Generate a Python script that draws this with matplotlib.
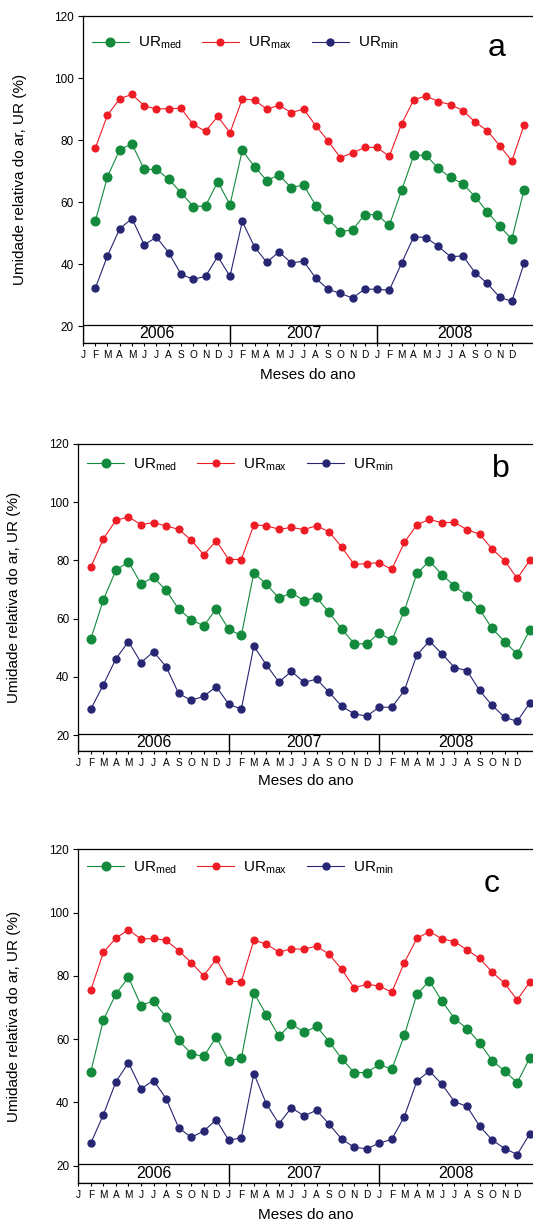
import numpy as np
import matplotlib.pyplot as plt
from matplotlib.patches import Rectangle

plt.rcParams['font.family'] = ['Liberation Sans', 'DejaVu Sans']
plt.rcParams['mathtext.default'] = 'regular'

# Meses de fev/2006 a jan/2009 (indice 0 = jan/2006)
meses = np.arange(1, 37)
rotulos_meses = ['J', 'F', 'M', 'A', 'M', 'J', 'J', 'A', 'S', 'O', 'N', 'D'] * 3
anos = ['2006', '2007', '2008']

# Painel a
ur_med_a = [53.8, 68.2, 77.0, 78.8, 70.6, 70.6, 67.4, 63.1, 58.6, 58.8, 66.6, 59.2,
            76.7, 71.5, 67.0, 68.8, 64.7, 65.6, 58.9, 54.6, 50.5, 51.1, 56.0, 56.0,
            52.5, 63.8, 75.1, 75.2, 70.9, 68.0, 66.0, 61.8, 56.9, 52.3, 48.1, 64.0]
ur_max_a = [77.4, 88.1, 93.4, 94.8, 91.1, 90.1, 90.2, 90.3, 85.1, 82.9, 87.7, 82.4,
            93.3, 93.0, 90.0, 91.3, 88.9, 90.1, 84.7, 79.8, 74.4, 75.9, 77.7, 77.7,
            74.8, 85.2, 93.1, 94.3, 92.5, 91.5, 89.6, 85.9, 83.1, 78.3, 73.3, 84.9]
ur_min_a = [32.2, 42.7, 51.5, 54.7, 46.3, 48.7, 43.7, 36.8, 35.1, 36.1, 42.5, 36.1,
            53.8, 45.6, 40.6, 44.0, 40.4, 41.0, 35.5, 31.9, 30.6, 29.1, 32.0, 31.9,
            31.6, 40.3, 48.9, 48.6, 45.8, 42.4, 42.7, 37.3, 33.8, 29.4, 28.0, 40.3]

# Painel b
ur_med_b = [53.0, 66.5, 76.6, 79.5, 71.9, 74.2, 69.7, 63.3, 59.6, 57.5, 63.3, 56.3,
            54.2, 75.7, 71.8, 67.0, 68.9, 66.1, 67.3, 62.1, 56.5, 51.4, 51.3, 55.1,
            52.5, 62.7, 75.5, 79.8, 75.1, 71.2, 67.8, 63.2, 56.6, 52.1, 47.8, 56.0]
ur_max_b = [77.7, 87.4, 93.8, 94.9, 92.3, 93.0, 91.8, 90.7, 87.0, 81.9, 86.7, 80.3,
            80.3, 92.2, 91.9, 90.7, 91.3, 90.6, 91.9, 89.8, 84.6, 78.6, 78.9, 79.2,
            76.9, 86.2, 92.2, 94.1, 92.9, 93.1, 90.5, 89.0, 83.9, 79.9, 73.8, 80.0]
ur_min_b = [28.9, 37.3, 46.2, 52.1, 44.9, 48.6, 43.5, 34.3, 31.9, 33.3, 36.6, 30.6,
            28.9, 50.5, 44.1, 38.2, 41.9, 38.1, 39.2, 34.7, 29.9, 27.3, 26.5, 29.6,
            29.5, 35.3, 47.5, 52.3, 47.9, 43.2, 42.1, 35.3, 30.2, 26.1, 24.7, 31.0]

# Painel c
ur_med_c = [49.7, 66.0, 74.3, 79.5, 70.6, 72.1, 66.9, 59.6, 55.4, 54.5, 60.6, 53.2,
            53.9, 74.6, 67.7, 60.9, 64.9, 62.1, 64.0, 59.2, 53.8, 49.4, 49.4, 52.0,
            50.4, 61.2, 74.2, 78.4, 72.0, 66.5, 63.3, 58.8, 53.2, 49.9, 46.2, 54.0]
ur_max_c = [75.5, 87.4, 91.9, 94.6, 91.6, 91.8, 91.2, 88.0, 84.2, 80.0, 85.3, 78.3,
            78.1, 91.3, 90.0, 87.5, 88.5, 88.4, 89.4, 86.8, 82.1, 76.2, 77.3, 76.8,
            74.8, 84.2, 91.8, 94.0, 91.7, 90.8, 88.2, 85.5, 81.2, 77.6, 72.4, 78.0]
ur_min_c = [27.1, 36.1, 46.5, 52.5, 44.3, 46.9, 41.2, 32.0, 28.9, 30.9, 34.5, 28.0,
            28.8, 49.1, 39.5, 33.2, 38.3, 35.7, 37.5, 33.1, 28.4, 25.8, 25.3, 27.1,
            28.3, 35.5, 46.7, 49.9, 45.7, 40.2, 38.7, 32.5, 28.1, 25.4, 23.5, 30.0]

cor_med = '#138a3c'
cor_max = '#ee1c25'
cor_min = '#262673'

# (letra, dados, posicao dos eixos, limite x, legenda y, letra x, letra y)
paineis = [
    ('a', (ur_med_a, ur_max_a, ur_min_a), [0.1557, 0.7198, 0.8443, 0.2669], 36.73, 0.918, 0.92, 0.88),
    ('b', (ur_med_b, ur_max_b, ur_min_b), [0.1469, 0.3869, 0.8531, 0.2507], 36.26, 0.932, 0.93, 0.893),
    ('c', (ur_med_c, ur_max_c, ur_min_c), [0.1469, 0.0343, 0.8531, 0.2724], 36.26, 0.944, 0.908, 0.873),
]

ybase = 14.5
ytopo_caixa = 20.5

fig = plt.figure(figsize=(5.33, 12.25), dpi=100)

for letra, (med, mx, mn), pos, xmax, yleg, xl, yl in paineis:
    ax = fig.add_axes(pos)
    ax.plot(meses, med, '-o', color=cor_med, lw=0.8, ms=6.2, label=r'UR$_{med}$')
    ax.plot(meses, mx, '-o', color=cor_max, lw=0.8, ms=4.8, label=r'UR$_{max}$')
    ax.plot(meses, mn, '-o', color=cor_min, lw=0.8, ms=5.0, label=r'UR$_{min}$')

    ax.set_xlim(0, xmax)
    ax.set_ylim(ybase, 120)
    ax.set_yticks([20, 40, 60, 80, 100, 120])
    ax.set_xticks(range(36))
    ax.set_xticklabels(rotulos_meses, fontsize=7.3)
    ax.tick_params(axis='y', direction='out', length=3.6, width=0.8, pad=3, labelsize=8.5)
    ax.tick_params(axis='x', direction='out', length=2.2, width=0.8, pad=2.5)
    ax.spines['right'].set_visible(False)
    for s in ['left', 'top', 'bottom']:
        ax.spines[s].set_linewidth(0.9)

    # Caixas dos anos
    for k, ano in enumerate(anos):
        x0 = 12 * k
        x1 = 12 * (k + 1) if k < 2 else xmax + 1
        ax.add_patch(Rectangle((x0, ybase), x1 - x0, ytopo_caixa - ybase,
                               fill=False, ec='k', lw=0.9, zorder=3))
        ax.text((x0 + min(x1, xmax)) / 2, (ybase + ytopo_caixa) / 2, ano,
                ha='center', va='center', fontsize=11.5)

    ax.set_ylabel('Umidade relativa do ar, UR (%)', fontsize=11)
    ax.yaxis.set_label_coords(-0.125, 0.5)
    ax.set_xlabel('Meses do ano', fontsize=11)
    ax.xaxis.set_label_coords(0.5, -0.075)

    ax.legend(loc='center left', bbox_to_anchor=(0.02, yleg), ncol=3, frameon=False,
              fontsize=11, handlelength=2.4, handletextpad=0.6, columnspacing=1.3,
              borderpad=0, borderaxespad=0)
    ax.text(xl, yl, letra, transform=ax.transAxes, ha='center', va='baseline', fontsize=23)

fig.savefig('out.png', dpi=100)
